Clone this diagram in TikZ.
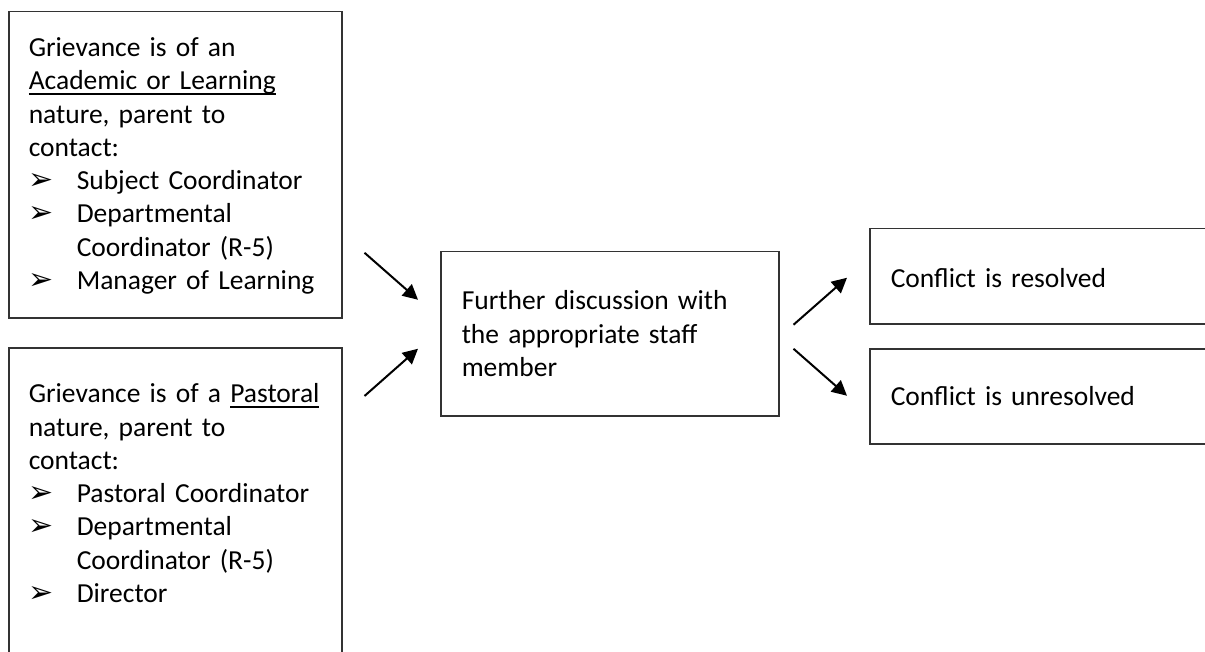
\documentclass[tikz,border=0pt]{standalone}
\usepackage{fontspec}
\setmainfont{Carlito}
\newfontfamily\bulletfont{DejaVu Sans}
\usetikzlibrary{arrows.meta}

\newcommand{\ulined}[1]{\leavevmode\setbox0\hbox{#1}\rlap{\rule[-2pt]{\wd0}{0.7pt}}\box0}
\newcommand{\bitem}[1]{\leavevmode\makebox[19.2pt][l]{\bulletfont\fontsize{12}{12}\selectfont ➢}#1}
\newcommand{\bcont}[1]{\leavevmode\hspace*{19.2pt}#1}

\begin{document}
\begin{tikzpicture}[x=0.4pt, y=-0.4pt,
    box/.style={draw=black!80, line width=0.6pt, anchor=north west, align=left,
      inner ysep=0pt, font=\fontsize{11}{13.3}\selectfont},
    flow/.style={-{Triangle[length=6pt,width=6pt]}, line width=0.8pt}]

    \useasboundingbox (0,0) rectangle (1205,652);
    \clip (0,0) rectangle (1205,652);

    % grievance boxes
    \node[box, inner xsep=8pt, text width=117.2pt, text height=18pt, text depth=104.4pt] (acad) at (8,11)
        {Grievance is of an\\ \ulined{Academic or Learning}\\ nature, parent to\\ contact:\\
         \bitem{Subject Coordinator}\\ \bitem{Departmental}\\ \bcont{Coordinator (R-5)}\\ \bitem{Manager of Learning}};
    \node[box, inner xsep=8pt, text width=117.2pt, text height=22pt, text depth=115.2pt] (past) at (8,347)
        {Grievance is of a \ulined{Pastoral}\\ nature, parent to\\ contact:\\
         \bitem{Pastoral Coordinator}\\ \bitem{Departmental}\\ \bcont{Coordinator (R-5)}\\ \bitem{Director}};

    % discussion
    \node[box, inner xsep=8.4pt, text width=118.4pt, text height=23.2pt, text depth=42.4pt] (disc) at (440,251)
        {Further discussion with\\ the appropriate staff\\ member};

    % outcome
    \node[box, inner xsep=8.4pt, text width=155.6pt, text height=23.6pt, text depth=14.4pt] (res) at (869,228)
        {Conflict is resolved};
    \node[box, inner xsep=8.4pt, text width=155.6pt, text height=22.8pt, text depth=15.2pt] (unres) at (869,348)
        {Conflict is unresolved};

    % arrows in
    \draw[flow] ([shift={(22,88)}]acad.east) -- ([shift={(-22,-34)}]disc.west);
    \draw[flow] ([shift={(22,49)}]past.north east) -- ([shift={(-22,15)}]disc.west);

    % arrows out
    \draw[flow] ([shift={(14,-9)}]disc.east) -- ([shift={(-22,1.5)}]res.west);
    \draw[flow] ([shift={(14,15)}]disc.east) -- ([shift={(-22,-0.5)}]unres.west);
\end{tikzpicture}
\end{document}
